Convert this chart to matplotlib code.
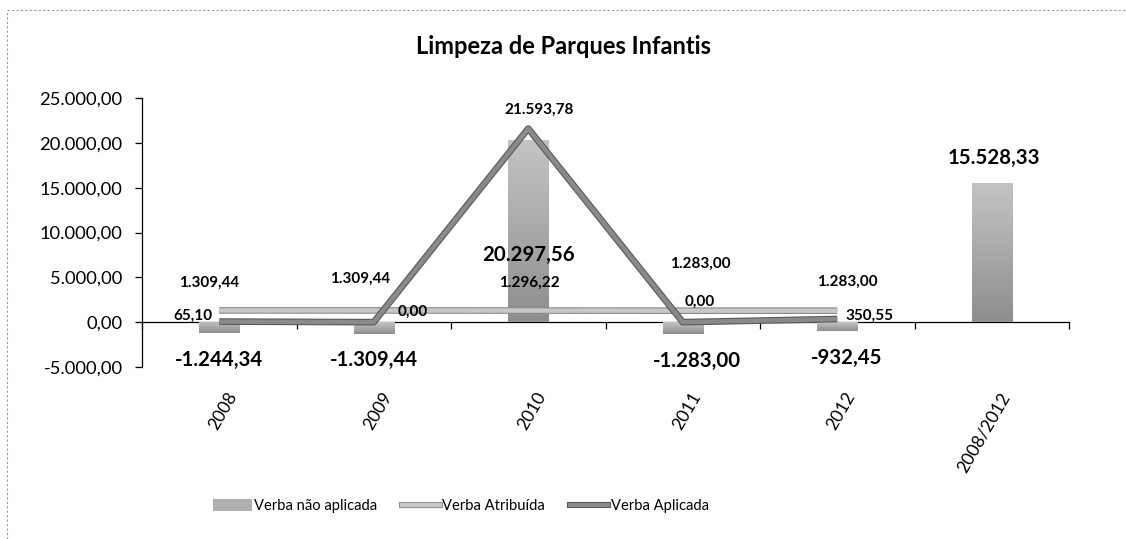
import matplotlib
matplotlib.use("Agg")
import matplotlib.pyplot as plt
import matplotlib.patheffects as pe
from matplotlib.transforms import ScaledTranslation
from matplotlib.lines import Line2D
from matplotlib.patches import Patch
from matplotlib.colors import LinearSegmentedColormap
import numpy as np

# ---- data ----
categories = ["2008", "2009", "2010", "2011", "2012", "2008/2012"]
verba_nao_aplicada = [-1244.34, -1309.44, 20297.56, -1283.00, -932.45, 15528.33]
verba_atribuida = [1309.44, 1309.44, 1296.22, 1283.00, 1283.00]
verba_aplicada = [65.10, 0.00, 21593.78, 0.00, 350.55]
y_ticks = [-5000, 0, 5000, 10000, 15000, 20000, 25000]

def fmt(v):
    s = f"{v:,.2f}"
    return s.replace(",", "X").replace(".", ",").replace("X", ".")

# label offsets in pixels (dx, dy)
bar_lbl_off = [(0, -27), (0, -26), (0, -115), (14, -27), (9, -27), (2, 25)]
atr_lbl_off = [(-10, 28), (-14, 32), (1, 28), (18, 47), (10, 29)]
apl_lbl_off = [(-26, 6), (39, 10), (11, 19), (17, 20), (32, 3)]

plt.rcParams['font.family'] = ['Lato', 'DejaVu Sans']

W, H = 1126, 539
fig = plt.figure(figsize=(W / 100, H / 100), dpi=100)
ax = fig.add_axes([142 / W, 1 - 367 / H, (1069 - 142) / W, (367 - 98) / H])

x = np.arange(len(categories))
xl = np.arange(len(verba_atribuida))

bars = ax.bar(x, verba_nao_aplicada, width=0.26, color="#b3b3b3",
              edgecolor="none", linewidth=0, zorder=2)

ax.set_xlim(-0.5, len(categories) - 0.5)
ax.set_ylim(-5000, 25000)

# gradient fill for bars (light top, darker bottom)
cmap = LinearSegmentedColormap.from_list("g", ["#8e8e8e", "#c4c4c4"])
grad = np.linspace(0, 1, 256).reshape(-1, 1)
for b in bars:
    x0, y0 = b.get_x(), b.get_y()
    w, h = b.get_width(), b.get_height()
    lo, hi = min(y0, y0 + h), max(y0, y0 + h)
    im = ax.imshow(grad, extent=[x0, x0 + w, lo, hi], origin='lower', cmap=cmap,
                   aspect='auto', zorder=2.1, interpolation='bilinear')
    im.set_clip_path(b)

l1, = ax.plot(xl, verba_atribuida, color="#c8c8c8", lw=3.2, zorder=3,
              solid_capstyle="butt",
              path_effects=[pe.Stroke(linewidth=4.8, foreground="#8c8c8c"), pe.Normal()])
l2, = ax.plot(xl, verba_aplicada, color="#8a8a8a", lw=3.2, zorder=4,
              solid_capstyle="butt",
              path_effects=[pe.Stroke(linewidth=4.8, foreground="#5a5a5a"), pe.Normal()])

ax.set_xlim(-0.5, len(categories) - 0.5)
ax.set_ylim(-5000, 25000)
ax.set_yticks(y_ticks)
ax.set_yticklabels([fmt(v) for v in y_ticks], fontsize=13.2)
ax.tick_params(axis='y', direction='out', length=5, width=0.9, pad=9, colors='black')

for s in ["top", "right", "bottom"]:
    ax.spines[s].set_visible(False)
ax.spines["left"].set_linewidth(0.9)

ax.set_xticks(x)
ax.set_xticklabels(categories, rotation=60, ha='right', va='center',
                   rotation_mode='anchor', fontsize=12.6)
ax.tick_params(axis='x', length=0, pad=19)
for lbl in ax.get_xticklabels():
    lbl.set_transform(lbl.get_transform() + ScaledTranslation(14 / 100, 0, fig.dpi_scale_trans))

# zero axis line with category boundary ticks
sec = ax.secondary_xaxis(5000 / 30000)
sec.set_xticks(np.arange(len(categories) + 1) - 0.5)
sec.tick_params(axis='x', direction='out', length=5, width=0.9, labelbottom=False)
sec.spines['bottom'].set_linewidth(0.9)

# labels
for i, v in enumerate(verba_nao_aplicada):
    dx, dy = bar_lbl_off[i]
    ax.annotate(fmt(v), (x[i], v), xytext=(dx, dy), textcoords='offset pixels',
                ha='center', va='center', fontsize=14.7, fontweight='bold', zorder=6)
for i, v in enumerate(verba_atribuida):
    dx, dy = atr_lbl_off[i]
    ax.annotate(fmt(v), (xl[i], v), xytext=(dx, dy), textcoords='offset pixels',
                ha='center', va='center', fontsize=11, fontweight='bold', zorder=6)
for i, v in enumerate(verba_aplicada):
    dx, dy = apl_lbl_off[i]
    ax.annotate(fmt(v), (xl[i], v), xytext=(dx, dy), textcoords='offset pixels',
                ha='center', va='center', fontsize=11, fontweight='bold', zorder=6)

fig.text(0.5, 1 - 47 / H, "Limpeza de Parques Infantis", ha='center', va='center',
         fontsize=17, fontweight='bold')

handles = [Patch(facecolor="#b0b0b0", edgecolor="none"),
           Line2D([], [], color="#c8c8c8", lw=3.0,
                  path_effects=[pe.Stroke(linewidth=4.4, foreground="#8c8c8c"), pe.Normal()]),
           Line2D([], [], color="#8a8a8a", lw=3.0,
                  path_effects=[pe.Stroke(linewidth=4.4, foreground="#5a5a5a"), pe.Normal()])]
fig.legend(handles, ["Verba não aplicada", "Verba Atribuída", "Verba Aplicada"],
           loc='center', bbox_to_anchor=(461 / W, 1 - 506 / H), ncol=3, frameon=False,
           fontsize=10.6, handlelength=2.6, handletextpad=0.15, columnspacing=1.7,
           handleheight=0.8)

# dotted chart border (top & left visible)
fig.add_artist(Line2D([7 / W, 1], [1 - 10 / H, 1 - 10 / H], transform=fig.transFigure,
                      color="#9a9a9a", lw=0.8, ls=(0, (2, 2))))
fig.add_artist(Line2D([7 / W, 7 / W], [0, 1 - 10 / H], transform=fig.transFigure,
                      color="#9a9a9a", lw=0.8, ls=(0, (2, 2))))

fig.savefig("out.png", dpi=100)
